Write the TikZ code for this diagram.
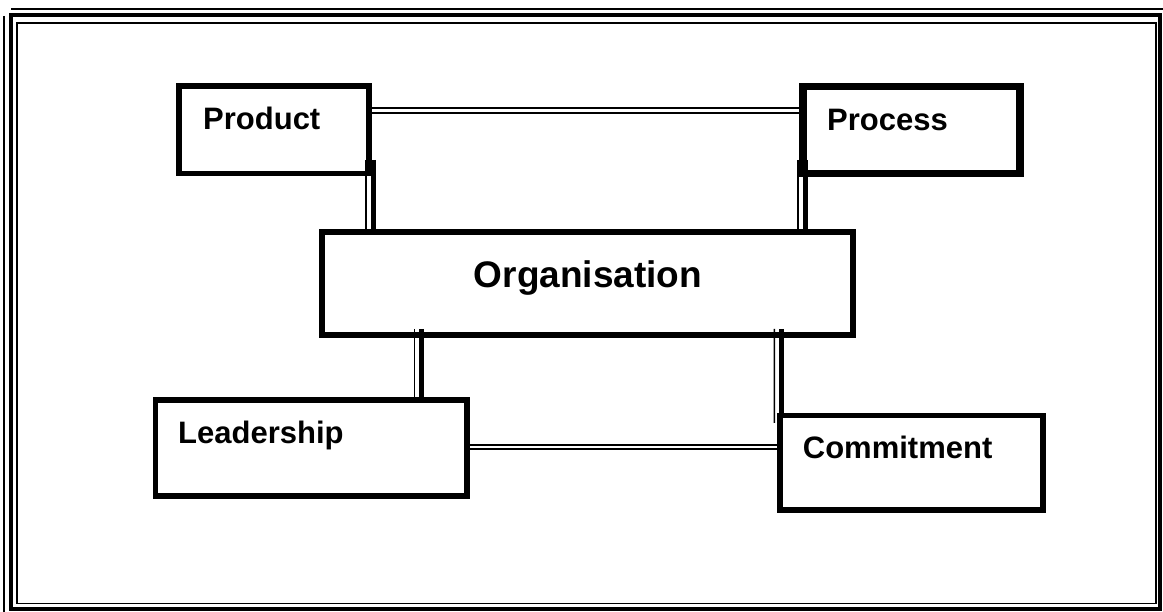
\documentclass[tikz,border=0pt]{standalone}
\usepackage{fontspec}
\setmainfont{Liberation Sans}
\tikzset{
  box/.style={draw, line width=5.5pt, inner sep=0pt, outer sep=0pt},
  word/.style={inner sep=0pt, font=\fontsize{31}{31}\selectfont\bfseries},
  heavy/.style={line width=5pt},
  light/.style={line width=1.6pt}
}
\begin{document}
\begin{tikzpicture}[x=1pt,y=-1pt]
		\useasboundingbox (0,0) rectangle (1163,612);
		% frame
		\draw[line width=1.5pt] (11,9) -- (1163,9);
		\draw[line width=1.5pt] (4,16) -- (4,612);
		\draw[line width=4pt] (11,15.3) rectangle (1160,609);
		\draw[line width=1.5pt] (17,23) rectangle (1156,603.3);
		% boxes
		\node[box, minimum width=190pt, minimum height=87.5pt] (product) at (274,129.75) {};
		\node[box, line width=7.5pt, minimum width=217pt, minimum height=87pt] (process) at (911.5,129.8) {};
		\node[box, minimum width=531pt, minimum height=103pt] (org) at (587.5,283.5) {};
		\node[box, minimum width=311.5pt, minimum height=96pt] (lead) at (311.25,448) {};
		\node[box, minimum width=263.3pt, minimum height=94.5pt] (commit) at (911.4,462.75) {};
		\node[word, anchor=base west] (tproduct) at (203,129.3) {Product};
		\node[word, anchor=base west] (tprocess) at (827,131) {Process};
		\node[word, anchor=base, font=\fontsize{37}{37}\selectfont\bfseries] (torg) at (588,288) {Organisation};
		\node[word, anchor=base west] (tlead) at (178,443.3) {Leadership};
		\node[word, anchor=base west] (tcommit) at (802.7,458) {Commitment};
		% product -- process
		\coordinate (pp1) at ([yshift=-22.3pt]product.north east);
		\coordinate (pp2) at ([yshift=-27.3pt]product.north east);
		\draw[line width=2pt] (pp1) -- (pp1 -| process.west);
		\draw[line width=2pt] (pp2) -- (pp2 -| process.west);
		% product -- organisation
		\coordinate (po1) at ([xshift=4pt,yshift=13.5pt]product.south east);
		\coordinate (po2) at ([xshift=-3pt,yshift=13.5pt]product.south east);
		\draw[heavy] (po1) -- (po1 |- org.north);
		\draw[light] (po2) -- (po2 |- org.north);
		% process -- organisation
		\coordinate (ro1) at ([xshift=2pt,yshift=13.3pt]process.south west);
		\coordinate (ro2) at ([xshift=-5pt,yshift=13.3pt]process.south west);
		\draw[heavy] (ro1) -- (ro1 |- org.north);
		\draw[light] (ro2) -- (ro2 |- org.north);
		% organisation -- leadership
		\coordinate (ol1) at ([xshift=99.5pt,yshift=6pt]org.south west);
		\coordinate (ol2) at ([xshift=92.3pt,yshift=6pt]org.south west);
		\draw[heavy] (ol1) -- (ol1 |- lead.north);
		\draw[light] (ol2) -- (ol2 |- lead.north);
		% organisation -- commitment
		\coordinate (oc1) at ([xshift=459pt,yshift=6pt]org.south west);
		\coordinate (oc2) at ([xshift=452.3pt,yshift=6pt]org.south west);
		\coordinate (ce) at ([xshift=-5.4pt,yshift=-7.5pt]commit.north west);
		\draw[heavy] (oc1) -- (oc1 |- commit.north);
		\draw[light] (oc2) -- (ce);
		% leadership -- commitment
		\coordinate (lc1) at ([yshift=-45pt]lead.north east);
		\coordinate (lc2) at ([yshift=-49.3pt]lead.north east);
		\draw[line width=2pt] (lc1) -- (lc1 -| commit.west);
		\draw[light] (lc2) -- (lc2 -| commit.west);
\end{tikzpicture}
\end{document}
